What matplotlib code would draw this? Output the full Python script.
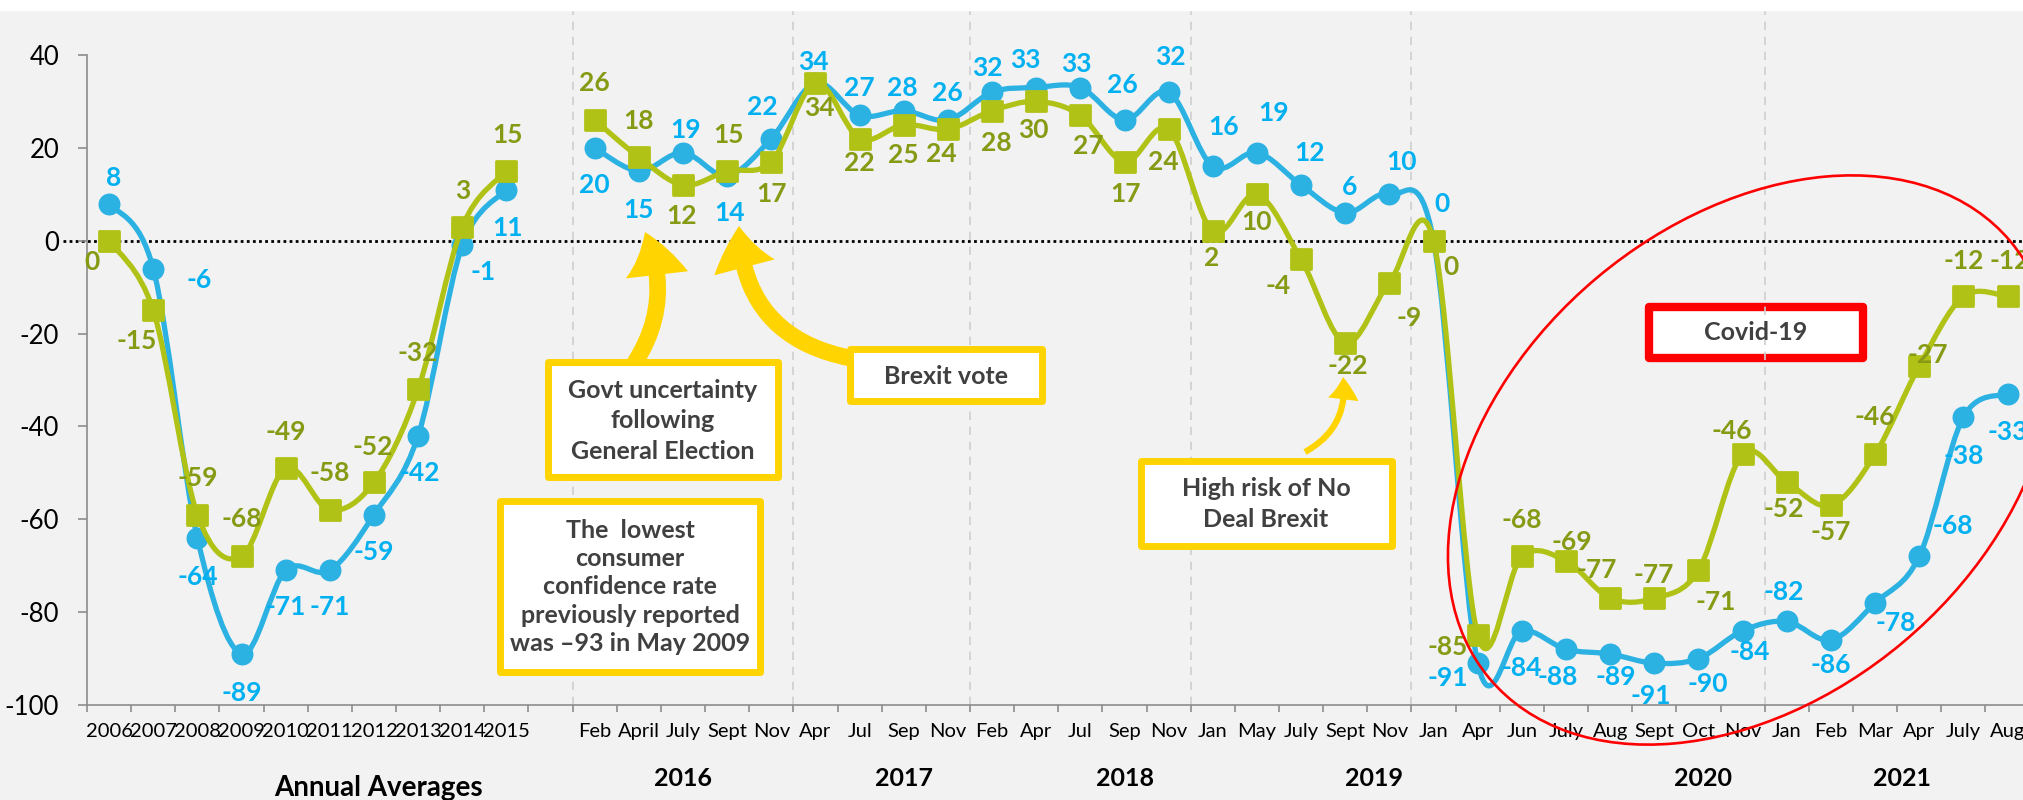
import numpy as np
import matplotlib
matplotlib.use("Agg")
import matplotlib.pyplot as plt
from matplotlib.path import Path
from matplotlib.patches import PathPatch, Rectangle, Ellipse, FancyArrowPatch
from matplotlib.markers import MarkerStyle
from matplotlib.ticker import NullFormatter
from matplotlib.transforms import Affine2D, blended_transform_factory

plt.rcParams['font.family'] = ['Lato', 'DejaVu Sans']
plt.rcParams['axes.unicode_minus'] = False

# categories: annual averages, one empty slot, then the monthly readings
labels = ["2006", "2007", "2008", "2009", "2010", "2011", "2012", "2013", "2014", "2015", "",
          "Feb", "April", "July", "Sept", "Nov",
          "Apr", "Jul", "Sep", "Nov",
          "Feb", "Apr", "Jul", "Sep", "Nov",
          "Jan", "May", "July", "Sept", "Nov",
          "Jan", "Apr", "Jun", "July", "Aug", "Sept", "Oct", "Nov",
          "Jan", "Feb", "Mar", "Apr", "July", "Aug"]

blue_values = [8, -6, -64, -89, -71, -71, -59, -42, -1, 11, None,
               20, 15, 19, 14, 22,
               34, 27, 28, 26,
               32, 33, 33, 26, 32,
               16, 19, 12, 6, 10,
               0, -91, -84, -88, -89, -91, -90, -84,
               -82, -86, -78, -68, -38, -33]

green_values = [0, -15, -59, -68, -49, -58, -52, -32, 3, 15, None,
                26, 18, 12, 15, 17,
                34, 22, 25, 24,
                28, 30, 27, 17, 24,
                2, 10, -4, -22, -9,
                0, -85, -68, -69, -77, -77, -71, -46,
                -52, -57, -46, -27, -12, -12]

years = ["2016", "2017", "2018", "2019", "2020", "2021"]
year_x = [13, 18, 23, 28.65, 36.1, 40.6]
year_breaks = [10.5, 15.5, 19.5, 24.5, 29.5, 37.5]

# label offsets (pixels, right / down) for each point
blue_off = [(5, -26), (46, 11), (0, 39), (0, 39), (0, 37), (0, 37), (0, 37), (2, 37), (21, 27), (1, 38), None,
            (0, 37), (0, 39), (3, -23), (2, 37), (-9, -32),
            (-2, -21), (0, -27), (-1, -23), (-1, -27),
            (-5, -24), (-11, -28), (-4, -24), (-2, -35), (2, -35),
            (11, -39), (17, -40), (8, -32), (4, -26), (12, -32),
            (8, -37), (-30, 15), (0, 37), (-8, 28), (6, 23), (-4, 33), (9, 25), (7, 21),
            (-3, -29), (0, 25), (21, 20), (34, -30), (0, 39), (0, 38)]
green_off = [(-17, 21), (-17, 31), (0, -37), (0, -37), (0, -36), (0, -37), (-1, -35), (0, -36), (0, -36), (1, -36), None,
             (0, -37), (0, -36), (-1, 31), (1, -36), (0, 32),
             (4, 25), (0, 24), (0, 30), (-7, 25),
             (4, 32), (-3, 29), (8, 31), (1, 32), (-5, 33),
             (-1, 27), (0, 28), (-23, 27), (3, 23), (20, 36),
             (17, 26), (-30, 12), (0, -36), (6, -19), (-13, -28), (-1, -23), (17, 32), (-11, -23),
             (-3, 27), (0, 27), (0, -37), (9, -11), (0, -35), (2, -35)]

BLUE = "#2BB1E2"
BLUE_TXT = "#00B0F0"
GREEN = "#B0C215"
GREEN_TXT = "#879A14"
YELLOW = "#FFD400"
BOX_TXT = "#404040"
BG = "#F2F2F2"

W, H = 2024, 800
fig = plt.figure(figsize=(W / 100, H / 100), dpi=100, facecolor=BG)
# pixel coordinates measured from the top-left corner
pix = Affine2D().scale(1 / 100, -1 / 100).translate(0, H / 100) + fig.dpi_scale_trans

fig.patches.append(Rectangle((0, 0), W, 10, transform=pix, color="white", zorder=0))

ax = fig.add_axes([87 / W, 95 / H, 1942.6 / W, 650 / H])
ax.set_facecolor(BG)
ax.set_xlim(-0.5, len(labels) - 0.5)
ax.set_ylim(-100, 40)
for s in ["top", "right"]:
    ax.spines[s].set_visible(False)
for s in ["left", "bottom"]:
    ax.spines[s].set_color("#8C8C8C")
    ax.spines[s].set_linewidth(1.2)

ax.set_yticks(range(-100, 41, 20))
ax.tick_params(axis="y", length=6.5, width=1.2, color="#8C8C8C", pad=13.5, labelsize=18.5)
ax.set_xticks(np.arange(-0.5, len(labels), 1))
ax.xaxis.set_major_formatter(NullFormatter())
ax.set_xticks(np.arange(len(labels)), labels, minor=True)
ax.tick_params(axis="x", which="major", length=5, width=1.2, color="#8C8C8C")
ax.tick_params(axis="x", which="minor", length=0, pad=13, labelsize=14.5)

# year separators and zero line
for b in year_breaks:
    ax.axvline(b, ymin=0, ymax=1.069, color="#CFCFCF", lw=1.2, ls=(0, (5, 4)), clip_on=False, zorder=1)
zero_tr = blended_transform_factory(ax.transAxes, ax.transData)
ax.plot([-24 / 1942.6, 1], [0, 0], transform=zero_tr, color="black", lw=2.0,
        ls=(0, (1, 1.2)), clip_on=False, zorder=1.5)


def smooth_path(xs, ys):
    pts = np.column_stack([xs, ys]).astype(float)
    n = len(pts)
    verts = [pts[0]]
    codes = [Path.MOVETO]
    for i in range(n - 1):
        p0 = pts[max(i - 1, 0)]
        p1 = pts[i]
        p2 = pts[i + 1]
        p3 = pts[min(i + 2, n - 1)]
        verts += [p1 + (p2 - p0) / 6, p2 - (p3 - p1) / 6, p2]
        codes += [Path.CURVE4] * 3
    return Path(verts, codes)


def draw_series(values, offsets, color, txt_color, marker, ms, z):
    x = np.arange(len(values))
    y = np.array([np.nan if v is None else v for v in values], dtype=float)
    ok = ~np.isnan(y)
    start = None
    for i in range(len(y) + 1):
        if i < len(y) and ok[i]:
            if start is None:
                start = i
        elif start is not None:
            path = smooth_path(x[start:i], y[start:i])
            ax.add_patch(PathPatch(path, fill=False, ec=color, lw=3.8,
                                   capstyle="round", joinstyle="round", zorder=z))
            start = None
    ax.plot(x, y, ls="none", marker=marker, ms=ms, color=color, mec=color,
            mew=2 if marker != "o" else 0, zorder=z + 0.1)
    for i, v in enumerate(values):
        if v is None:
            continue
        dx, dy = offsets[i]
        ax.annotate(str(v), (i, v), xytext=(dx * 0.72, -dy * 0.72), textcoords="offset points",
                    ha="center", va="center", fontsize=19, fontweight="bold",
                    color=txt_color, zorder=6)


draw_series(blue_values, blue_off, BLUE, BLUE_TXT, "o", 15.8, 3)
draw_series(green_values, green_off, GREEN, GREEN_TXT, MarkerStyle("s", joinstyle="round"), 14, 4)

# group labels under the axis
grp_tr = blended_transform_factory(ax.transData, pix)
for yr, xp in zip(years, year_x):
    ax.text(xp, 778, yr, transform=grp_tr, ha="center", va="center", fontsize=18,
            fontweight="bold", clip_on=False)
ax.text(6.1, 788, "Annual Averages", transform=grp_tr, ha="center", va="center",
        fontsize=20, fontweight="bold", clip_on=False)


def box(x0, y0, x1, y1, edge, lw, z):
    half = lw / 0.72 / 2
    ax.add_patch(Rectangle((x0 + half, y0 + half), x1 - x0 - 2 * half, y1 - y0 - 2 * half,
                           transform=pix, facecolor="white", edgecolor=edge, lw=lw,
                           joinstyle="round", clip_on=False, zorder=z))


def box_text(x, y, s, ls=1.2):
    ax.text(x, y, s, transform=pix, ha="center", va="center", fontsize=18,
            fontweight="bold", color=BOX_TXT, linespacing=ls, clip_on=False, zorder=9)


def arrow(a, b, rad, hl, hw, tw):
    ax.add_patch(FancyArrowPatch(a, b, transform=pix, connectionstyle=f"arc3,rad={rad}",
                                 arrowstyle=f"simple,head_length={hl},head_width={hw},tail_width={tw}",
                                 color=YELLOW, lw=0, shrinkA=0, shrinkB=0,
                                 clip_on=False, zorder=7))


arrow((634, 364), (645, 232), 0.27, 32, 45, 12)
arrow((850, 358), (739, 226), -0.4, 30, 45, 12)
arrow((1305, 452), (1343, 377), 0.34, 16, 22, 4.5)

box(545, 359, 781, 480, YELLOW, 5, 8)
box_text(663, 421, "Govt uncertainty\nfollowing\nGeneral Election", 1.38)
box(497, 498, 763, 675, YELLOW, 5, 8)
box_text(630, 587, "The  lowest\nconsumer\nconfidence rate\npreviously reported\nwas \u201393 in May 2009", 1.28)
box(847, 346, 1045, 404, YELLOW, 5, 8)
box_text(946, 376, "Brexit vote")
box(1138, 458, 1395, 549, YELLOW, 5, 8)
box_text(1266, 504, "High risk of No\nDeal Brexit", 1.38)
box(1645, 303, 1867, 362, "red", 6, 0.8)
box_text(1756, 333, "Covid-19")

ax.add_patch(Ellipse((1750, 460), 680, 476, angle=-40, transform=pix, fill=False,
                     edgecolor="red", lw=1.9, clip_on=False, zorder=10))

fig.savefig("out.png", dpi=100, facecolor=BG)
